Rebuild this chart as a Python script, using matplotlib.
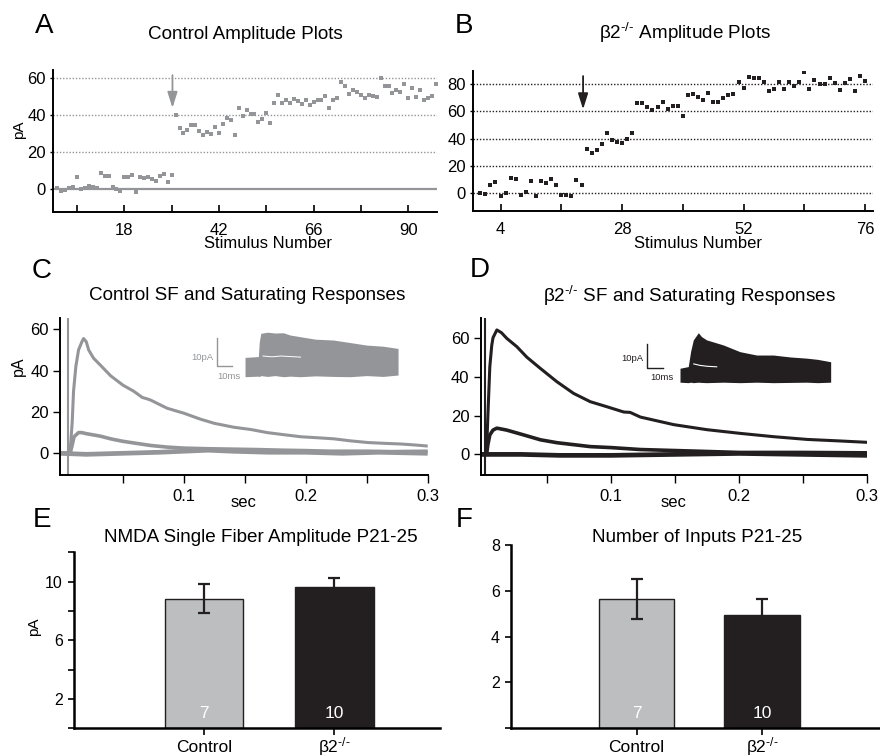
import matplotlib
matplotlib.use('Agg')
import matplotlib.pyplot as plt
from matplotlib.transforms import blended_transform_factory

plt.rcParams['font.family'] = ['Liberation Sans', 'DejaVu Sans']
plt.rcParams['mathtext.fontset'] = 'custom'
plt.rcParams['mathtext.rm'] = 'Liberation Sans'
plt.rcParams['mathtext.it'] = 'Liberation Sans:italic'
plt.rcParams['mathtext.default'] = 'regular'

GRAY = '#939598'
BLACK = '#231f20'
LIGHT = '#bcbec0'
KO = r'β2$^{\text{-/-}}$'

# ---------------- data ----------------
# Panel A: control amplitude plot (stimulus 1..97)
ctrl_stim = list(range(1, 98))
ctrl_amp = [0.7, -1.0, -0.4, 0.7, 1.0, 6.7, 0.2, 0.7, 1.6, 1.3, 0.4, 8.5, 7.2, 6.8, 1.3,
            0.0, -1.3, 6.3, 6.3, 7.4, -1.6, 6.3, 5.8, 6.3, 5.2, 4.3, 6.8, 8.1, 3.6, 7.4,
            40.0, 33.0, 30.3, 32.0, 34.6, 34.6, 31.4, 29.2, 30.6, 29.5, 33.3, 30.5, 35.0,
            38.4, 37.5, 29.0, 44.0, 39.5, 42.5, 40.4, 40.4, 36.0, 37.8, 41.3, 35.9, 46.3,
            50.8, 46.7, 48.0, 46.3, 48.8, 47.6, 46.0, 48.3, 45.2, 46.8, 48.0, 48.1, 50.3,
            44.0, 48.0, 49.2, 58.0, 55.9, 51.5, 53.5, 52.6, 51.0, 49.4, 50.8, 50.3, 49.7,
            60.0, 55.5, 55.5, 52.0, 53.3, 52.3, 56.8, 49.4, 54.8, 49.7, 53.3, 48.0, 49.2,
            50.3, 56.8]
a_xticks = [6, 18, 30, 42, 54, 66, 78, 90]
a_xlabels = ['', '18', '', '42', '', '66', '', '90']
a_yticks = [0, 20, 40, 60]
a_arrow_x = 30.2
a_arrow_y = (61.5, 43.8)

# Panel B: beta2-/- amplitude plot (stimulus 0..76)
ko_stim = list(range(0, 77))
ko_amp = [0.5, -0.5, 6.0, 8.5, -1.7, 0.5, 11.4, 10.5, -1.5, 1.0, 9.2, -2.2, 9.2, 7.8,
          10.2, 6.3, -1.0, -1.0, -1.7, 9.5, 5.8,
          32.6, 29.7, 31.6, 36.0, 44.3, 39.0, 37.7, 36.5, 39.4, 44.3, 65.7, 66.2, 62.8,
          60.8, 62.8, 66.7, 61.8, 63.7, 63.7, 56.4, 71.8, 72.3, 70.3, 68.1, 73.2, 66.7,
          66.9, 69.3, 71.5, 72.3, 81.3, 76.6, 84.7, 83.9, 83.9, 81.5, 74.5, 76.4, 81.3,
          75.9, 81.3, 78.6, 81.3, 88.8, 76.4, 82.5, 79.6, 79.6, 83.9, 80.5, 75.4, 80.5,
          83.2, 75.0, 85.6, 81.8]
b_xticks = [4, 16, 28, 40, 52, 64, 76]
b_xlabels = ['4', '', '28', '', '52', '', '76']
b_yticks = [0, 20, 40, 60, 80]
b_arrow_x = 20.3
b_arrow_y = (85.6, 61.3)

# Panel C: control traces (sec, pA)
c_big_t = [-0.0015, 0.004, 0.0068, 0.0085, 0.0096, 0.0115, 0.0137, 0.0165, 0.0178, 0.020,
           0.022, 0.026, 0.0315, 0.040, 0.050, 0.059, 0.066, 0.069, 0.0726, 0.0863, 0.1,
           0.1137, 0.125, 0.141, 0.155, 0.1685, 0.182, 0.196, 0.210, 0.223, 0.237, 0.251,
           0.265, 0.278, 0.290, 0.3]
c_big = [0, 0, 1, 15, 30, 42, 50, 54, 55.5, 54, 50, 46, 42.7, 37.5, 33, 30, 27, 26.5,
         25.8, 21.8, 19.4, 16.5, 14.5, 12.6, 11.5, 10, 9, 8, 7.5, 7, 6, 5.2, 4.8, 4.5, 4,
         3.5]
c_mid_t = [-0.0015, 0.0068, 0.0085, 0.010, 0.0137, 0.0165, 0.020, 0.0315, 0.040, 0.050,
           0.059, 0.0726, 0.0863, 0.1, 0.12, 0.14, 0.16, 0.18, 0.2, 0.22, 0.25, 0.27, 0.3]
c_mid = [0, 0, 4, 8, 10, 10, 9.5, 8.3, 7, 5.8, 5, 3.8, 3, 2.5, 2.2, 2, 1.8, 1.5, 1.3, 1,
         1, 0.8, 1]
c_base_t = [-0.0015, 0.02, 0.05, 0.08, 0.1, 0.12, 0.14, 0.17, 0.2, 0.23, 0.26, 0.3]
c_base = [0, -0.5, 0, 0.5, 1, 1.5, 1, 0.5, 0.5, 0, 0.5, 0]
c_artifact_t = 0.005
c_artifact_range = [66, -11]
c_xticks = [0.05, 0.1, 0.15, 0.2, 0.25, 0.3]
c_xlabels = ['', '0.1', '', '0.2', '', '0.3']
cd_yticks = [0, 20, 40, 60]

# Panel C inset (ms, pA)
ci_t = [0, 8.9, 9.5, 10.5, 15, 20, 25.6, 30, 36.7, 47, 58.9, 70, 81, 92, 102]
ci_hi = [4.5, 4.8, 10, 13.1, 13.5, 13.2, 13.3, 12.5, 11.9, 11, 10.7, 9.8, 8.9, 8.5, 7.7]
ci_lo = [-2.4, -2.2, -2.4, -2.0, -2.3, -2.0, -2.4, -2.2, -2.4, -2.1, -2.3, -2.4, -2.0,
         -2.3, -1.8]
ci_gap_t = [12, 18, 24, 30, 37]
ci_gap = [5.0, 4.7, 5.0, 4.8, 4.6]

# Panel D: beta2-/- traces
d_big_t = [-0.0016, 0.0025, 0.003, 0.004, 0.0055, 0.007, 0.008, 0.011, 0.0146, 0.0187,
           0.0266, 0.0344, 0.0448, 0.0578, 0.0708, 0.0839, 0.0969, 0.11, 0.115, 0.123,
           0.149, 0.175, 0.201, 0.227, 0.253, 0.279, 0.3]
d_big = [0, 0, 2, 20, 45, 56, 60, 64, 62.6, 59.7, 55.4, 50, 44.3, 37.4, 31.4, 27.1, 24.5,
         21.8, 21.6, 19.2, 15.3, 12.7, 10.8, 9.1, 7.7, 6.9, 6.2]
d_mid_t = [-0.0016, 0.003, 0.004, 0.0055, 0.008, 0.011, 0.0187, 0.032, 0.045, 0.058,
           0.071, 0.084, 0.1, 0.123, 0.149, 0.175, 0.2, 0.25, 0.3]
d_mid = [0, 0, 5, 10, 12.5, 13.5, 12.5, 10, 7.5, 6, 5, 4, 3.5, 2.5, 2, 1.5, 1, 1, 0.8]
d_base_t = [-0.0016, 0.03, 0.06, 0.1, 0.15, 0.2, 0.25, 0.3]
d_base = [0, 0, -0.5, -0.5, 0, 0.5, 0, -0.5]
d_artifact_t = 0.002
d_artifact_range = [72, -11]

# Panel D inset (ms, pA)
di_t = [0, 5.4, 7, 8.7, 12, 14, 17.4, 28.3, 39.2, 50.1, 61, 72, 82.8, 90, 98.5]
di_hi = [2.8, 3.5, 10, 14.6, 17.6, 16, 14.6, 12.5, 9.7, 8.3, 8.3, 7.5, 7, 6.5, 5.5]
di_lo = [-3.0, -3.2, -3.0, -3.2, -3.0, -3.1, -3.2, -3.0, -3.2, -3.0, -3.2, -3.1, -3.0,
         -3.2, -3.0]
di_gap_t = [9, 13, 18, 24]
di_gap = [4.6, 4.0, 3.6, 3.4]

# Panels E, F: bar charts
groups = ['Control', KO]
bar_x = [1, 2]
bar_n = ['7', '10']
sf_amp = [8.85, 9.65]
sf_err = [1.0, 0.62]
n_inputs = [5.63, 4.96]
n_inputs_err = [0.87, 0.67]
bar_colors = [LIGHT, BLACK]

# ---------------- figure ----------------
W, H = 880, 756
fig = plt.figure(figsize=(W / 100, H / 100), dpi=100)


def px_axes(x0, y0, x1, y1):
    return fig.add_axes([x0 / W, 1 - y1 / H, (x1 - x0) / W, (y1 - y0) / H])


def ftext(x, y, s, **kw):
    return fig.text(x / W, 1 - y / H, s, **kw)


def style(ax, lw=1.4):
    for sp in ('top', 'right'):
        ax.spines[sp].set_visible(False)
    for sp in ('left', 'bottom'):
        ax.spines[sp].set_linewidth(lw)
        ax.spines[sp].set_color('black')


# ---- Panel A ----
axA = px_axes(53, 70, 437, 211.7)
axA.set_xlim(-0.1, 97.3)
axA.set_ylim(-12.3, 64.3)
style(axA)
for v in a_yticks[1:]:
    axA.axhline(v, color=GRAY, lw=1.0, ls=(0, (1, 1.3)), zorder=1)
axA.axhline(a_yticks[0], color=GRAY, lw=1.6, zorder=1)
axA.plot(ctrl_stim, ctrl_amp, 's', color=GRAY, ms=3.4, mew=0, zorder=3)
axA.set_xticks(a_xticks)
axA.set_xticklabels(a_xlabels)
axA.set_yticks(a_yticks)
axA.tick_params(axis='x', direction='in', length=5, width=1.2, pad=8, labelsize=12)
axA.tick_params(axis='y', direction='out', length=2, width=1.0, pad=3, labelsize=12)
axA.annotate('', xy=(a_arrow_x, a_arrow_y[1]), xytext=(a_arrow_x, a_arrow_y[0]),
             arrowprops=dict(arrowstyle='-|>,head_length=0.95,head_width=0.3',
                             color=GRAY, lw=1.3, shrinkA=0, shrinkB=0))

# ---- Panel B ----
axB = px_axes(472.7, 71, 872.7, 210.7)
axB.set_xlim(-1.5, 77.5)
axB.set_ylim(-12.7, 89.3)
style(axB)
for v in b_yticks:
    axB.axhline(v, color=BLACK, lw=1.0, ls=(0, (1, 1.3)), zorder=1)
axB.plot(ko_stim, ko_amp, 's', color=BLACK, ms=3.4, mew=0, zorder=3)
axB.set_xticks(b_xticks)
axB.set_xticklabels(b_xlabels)
axB.set_yticks(b_yticks)
axB.tick_params(axis='x', direction='in', length=5, width=1.2, pad=8, labelsize=12)
axB.tick_params(axis='y', direction='out', length=2, width=1.0, pad=3, labelsize=12)
axB.annotate('', xy=(b_arrow_x, b_arrow_y[1]), xytext=(b_arrow_x, b_arrow_y[0]),
             arrowprops=dict(arrowstyle='-|>,head_length=0.95,head_width=0.3',
                             color=BLACK, lw=1.3, shrinkA=0, shrinkB=0))

# ---- Panel C ----
axC = px_axes(60, 318.3, 427.7, 475)
axC.set_xlim(-0.0015, 0.3)
axC.set_ylim(-10.5, 65.3)
style(axC)
axC.plot(c_base_t, c_base, color=GRAY, lw=3.4, solid_capstyle='butt')
axC.plot(c_mid_t, c_mid, color=GRAY, lw=2.6, solid_capstyle='butt')
axC.plot(c_big_t, c_big, color=GRAY, lw=2.2, solid_capstyle='butt')
axC.plot([c_artifact_t, c_artifact_t], c_artifact_range, color=GRAY, lw=1.5)
axC.set_xticks(c_xticks)
axC.set_xticklabels(c_xlabels)
axC.set_yticks(cd_yticks)
axC.tick_params(axis='x', direction='out', length=6, width=1.0, pad=4, labelsize=12)
axC.tick_params(axis='y', direction='out', length=5, width=1.0, pad=3, labelsize=12)

insC = px_axes(185, 325, 400, 385)
insC.axis('off')
insC.set_xlim(-40, 103.3)
insC.set_ylim(-5.36, 16.07)
insC.fill_between(ci_t, ci_lo, ci_hi, color=GRAY, lw=0)
insC.plot(ci_gap_t, ci_gap, color='white', lw=0.7)
sbx, sby = -18.5, 1.43
insC.plot([sbx, sbx, sbx + 10], [sby + 10, sby, sby], color=GRAY, lw=1.0)
insC.text(sbx - 2.5, sby + 3.2, '10pA', color=GRAY, fontsize=6.8, ha='right', va='center')
insC.text(sbx + 7.5, sby - 3.9, '10ms', color=GRAY, fontsize=6.8, ha='center', va='center')

# ---- Panel D ----
axD = px_axes(480.7, 318.3, 867.3, 475)
axD.set_xlim(-0.0016, 0.3)
axD.set_ylim(-10.6, 70)
style(axD)
axD.plot(d_base_t, d_base, color=BLACK, lw=3.4, solid_capstyle='butt')
axD.plot(d_mid_t, d_mid, color=BLACK, lw=2.6, solid_capstyle='butt')
axD.plot(d_big_t, d_big, color=BLACK, lw=2.2, solid_capstyle='butt')
axD.plot([d_artifact_t, d_artifact_t], d_artifact_range, color=BLACK, lw=1.5)
axD.set_xticks(c_xticks)
axD.set_xticklabels(c_xlabels)
axD.set_yticks(cd_yticks)
axD.tick_params(axis='x', direction='out', length=6, width=1.0, pad=4, labelsize=12)
axD.tick_params(axis='y', direction='out', length=5, width=1.0, pad=3, labelsize=12)

insD = px_axes(600, 325, 840, 390)
insD.axis('off')
insD.set_xlim(-52.3, 104.6)
insD.set_ylim(-6.25, 20.8)
insD.fill_between(di_t, di_lo, di_hi, color=BLACK, lw=0)
insD.plot(di_gap_t, di_gap, color='white', lw=0.8)
sbx, sby = -21.4, 2.8
insD.plot([sbx, sbx, sbx + 10], [sby + 10, sby, sby], color=BLACK, lw=1.0)
insD.text(sbx - 2.5, sby + 4.2, '10pA', color=BLACK, fontsize=6.8, ha='right', va='center')
insD.text(sbx + 9.3, sby - 3.9, '10ms', color=BLACK, fontsize=6.8, ha='center', va='center')


# ---- Panels E & F ----
def bar_panel(box, vals, errs, xlim, ylim, yticks, ylabels):
    ax = px_axes(*box)
    ax.set_xlim(*xlim)
    ax.set_ylim(*ylim)
    style(ax, lw=1.8)
    ax.bar(bar_x, vals, width=0.6, color=bar_colors, edgecolor=BLACK, linewidth=1.0, zorder=2)
    ax.errorbar(bar_x, vals, yerr=errs, fmt='none', ecolor=BLACK, elinewidth=1.6,
                capsize=4, capthick=1.6, zorder=3)
    trans = blended_transform_factory(ax.transData, ax.transAxes)
    for x, n in zip(bar_x, bar_n):
        ax.text(x, 0.083, n, transform=trans, color='white', fontsize=12.5,
                ha='center', va='center', zorder=4)
    # category labels placed on a common baseline just below the axis
    base_y = -(752 - box[3]) / (box[3] - box[1])
    for x, g in zip(bar_x, groups):
        ax.text(x, base_y, g, transform=trans, fontsize=12.5, ha='center', va='baseline',
                clip_on=False)
    ax.set_xticks(bar_x)
    ax.set_xticklabels([])
    ax.set_yticks(yticks)
    ax.set_yticklabels(ylabels)
    ax.tick_params(axis='x', direction='out', length=5, width=1.2)
    ax.tick_params(axis='y', direction='out', length=4, width=1.2, pad=4, labelsize=11.5)
    return ax


axE = bar_panel((74, 552.3, 440, 728.3), sf_amp, sf_err, (0, 2.81), (0, 12),
                [0, 2, 4, 6, 8, 10, 12], ['', '2', '', '6', '', '10', ''])
axF = bar_panel((511, 545, 880, 728.3), n_inputs, n_inputs_err, (0, 2.94), (0, 8),
                [0, 2, 4, 6, 8], ['', '2', '4', '6', '8'])

# ---- text ----
for (x, y, s) in [(35, 33.3, 'A'), (455, 33.3, 'B'), (32, 278.3, 'C'), (470, 277, 'D'),
                  (33, 526.7, 'E'), (456, 526.7, 'F')]:
    ftext(x, y, s, fontsize=20, ha='left', va='baseline')

ttl = dict(fontsize=13.6, ha='center', va='baseline')
ftext(245.8, 39.3, 'Control Amplitude Plots', **ttl)
ftext(685, 39.3, KO + ' Amplitude Plots', **ttl)
ftext(247.5, 300, 'Control SF and Saturating Responses', **ttl)
ftext(689, 301.7, KO + ' SF and Saturating Responses', **ttl)
ftext(260.8, 541.7, 'NMDA Single Fiber Amplitude P21-25', **ttl)
ftext(697.5, 541.7, 'Number of Inputs P21-25', **ttl)

ftext(267.5, 248.3, 'Stimulus Number', fontsize=12, ha='center', va='baseline')
ftext(697.5, 248.3, 'Stimulus Number', fontsize=12, ha='center', va='baseline')
ftext(244, 506.7, 'sec', fontsize=12, ha='center', va='baseline')
ftext(674, 506.7, 'sec', fontsize=12, ha='center', va='baseline')

ftext(19, 130, 'pA', fontsize=11, rotation=90, ha='center', va='center')
ftext(18, 366, 'pA', fontsize=11.5, rotation=90, ha='center', va='center')
ftext(34, 627, 'pA', fontsize=11, rotation=90, ha='center', va='center')

fig.savefig('out.png', dpi=100)
